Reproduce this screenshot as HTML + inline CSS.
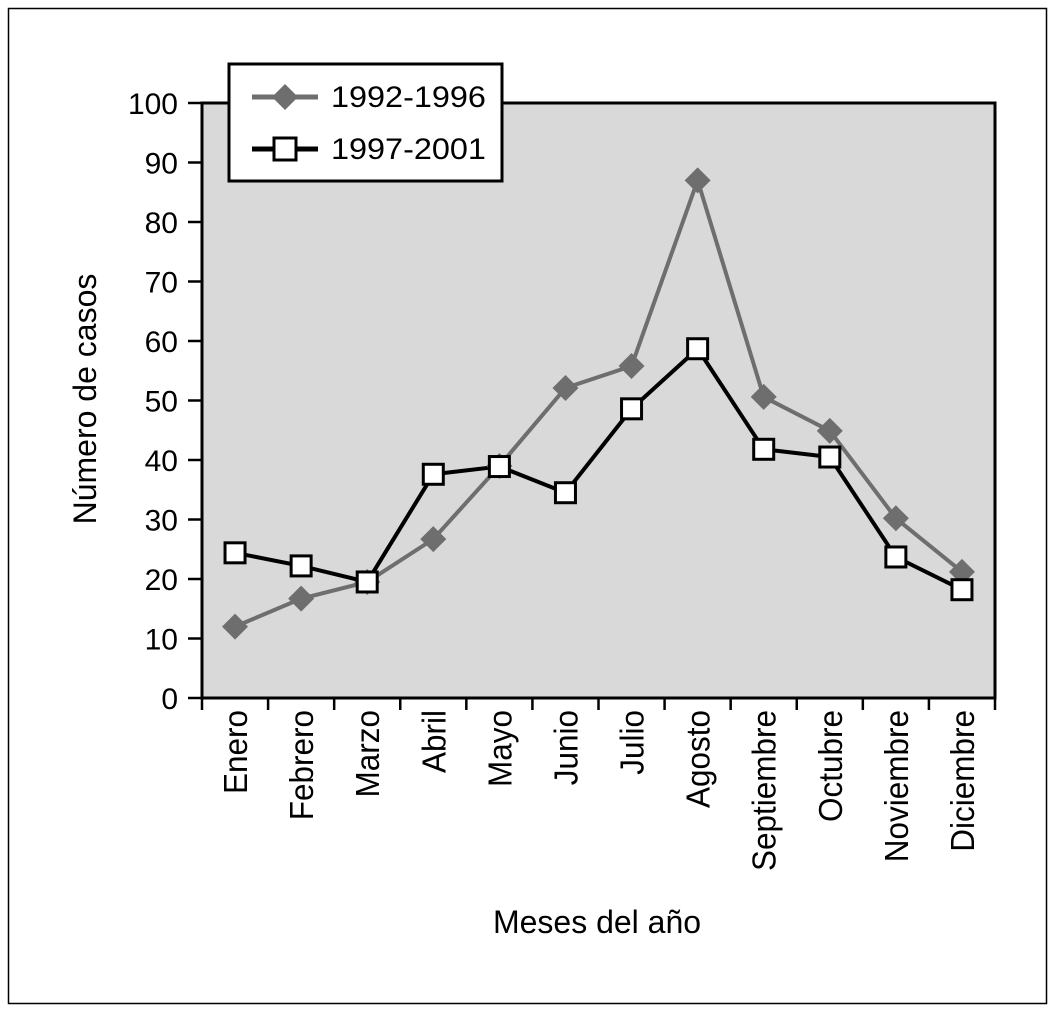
<!DOCTYPE html>
<html><head><meta charset="utf-8"><style>
html,body{margin:0;padding:0;background:#fff;}
svg{display:block;font-family:"Liberation Sans",Arial,sans-serif;}
</style></head><body>
<svg id="chart" width="1055" height="1016" viewBox="0 0 1055 1016">
<rect x="8.5" y="8.5" width="1038" height="995" fill="#fff" stroke="#000" stroke-width="1.5"/>
<rect x="202" y="103" width="793" height="595" fill="#d9d9d9" stroke="#000" stroke-width="3"/>
<g id="axes"></g>
<g id="series"></g>
<text x="0" y="0" transform="translate(96,399) rotate(-90)" text-anchor="middle" font-size="32">Número de casos</text>
<text x="597" y="933" text-anchor="middle" font-size="32">Meses del año</text>
<g>
<rect x="229" y="64" width="273" height="117" fill="#fff" stroke="#000" stroke-width="3"/>
<line x1="252" y1="97" x2="318" y2="97" stroke="#6e6e6e" stroke-width="5"/>
<polygon points="285,84 298,97 285,110 272,97" fill="#6e6e6e"/>
<text x="0" y="0" transform="translate(331,107) scale(1.08,1)" font-size="30">1992-1996</text>
<line x1="252" y1="149" x2="318" y2="149" stroke="#000" stroke-width="5"/>
<rect x="274" y="138" width="22" height="22" fill="#fff" stroke="#000" stroke-width="3"/>
<text x="0" y="0" transform="translate(331,159) scale(1.08,1)" font-size="30">1997-2001</text>
</g>
</svg>
<script>
const months=["Enero","Febrero","Marzo","Abril","Mayo","Junio","Julio","Agosto","Septiembre","Octubre","Noviembre","Diciembre"];
const s1992=[12,16.7,19.5,26.7,39,52.1,55.8,87,50.6,44.9,30.2,21.2];
const s1997=[24.4,22.2,19.5,37.6,38.9,34.5,48.6,58.7,41.8,40.5,23.7,18.2];
const yTicks=[0,10,20,30,40,50,60,70,80,90,100];
const NS="http://www.w3.org/2000/svg";
const X0=202,X1=995,Y0=698,Y1=103;
const bw=(X1-X0)/months.length;
function xs(i){return X0+bw*(i+0.5);}
function ys(v){return Y0-(v/100)*(Y0-Y1);}
function mk(tag,attrs,parent){const e=document.createElementNS(NS,tag);for(const k in attrs)e.setAttribute(k,attrs[k]);parent.appendChild(e);return e;}
const axes=document.getElementById('axes'),ser=document.getElementById('series');
yTicks.forEach(t=>{
  const l=mk('line',{x1:X0-14,x2:X0,y1:ys(t),y2:ys(t),stroke:'#000','stroke-width':2.5},axes);
  
  
  const tx=mk('text',{x:X0-24,y:ys(t)+11,'text-anchor':'end','font-size':30},axes);
  tx.textContent=t;
  
  
});
for(let i=0;i<=months.length;i++){
  const l=mk('line',{x1:X0+bw*i,x2:X0+bw*i,y1:Y0,y2:Y0+12,stroke:'#000','stroke-width':2.5},axes);
  
  
}
months.forEach((m,i)=>{
  const tx=mk('text',{x:0,y:0,transform:`translate(${xs(i)+12},710) rotate(-90) scale(1.05,1.12)`,'text-anchor':'end','font-size':30},axes);
  tx.textContent=m;
  
  
});
const p1=mk('polyline',{points:s1992.map((v,i)=>xs(i)+','+ys(v)).join(' '),fill:'none',stroke:'#6e6e6e','stroke-width':4},ser);


const p2=mk('polyline',{points:s1997.map((v,i)=>xs(i)+','+ys(v)).join(' '),fill:'none',stroke:'#000','stroke-width':4},ser);


s1992.forEach((v,i)=>{
  const x=xs(i),y=ys(v);
  const d=mk('polygon',{points:`${x},${y-13} ${x+13},${y} ${x},${y+13} ${x-13},${y}`,fill:'#6e6e6e'},ser);
  
  
});
s1997.forEach((v,i)=>{
  const x=xs(i),y=ys(v);
  const r=mk('rect',{x:x-10,y:y-10,width:20,height:20,fill:'#fff',stroke:'#000','stroke-width':3},ser);
  
  
});
</script>
</body></html>
